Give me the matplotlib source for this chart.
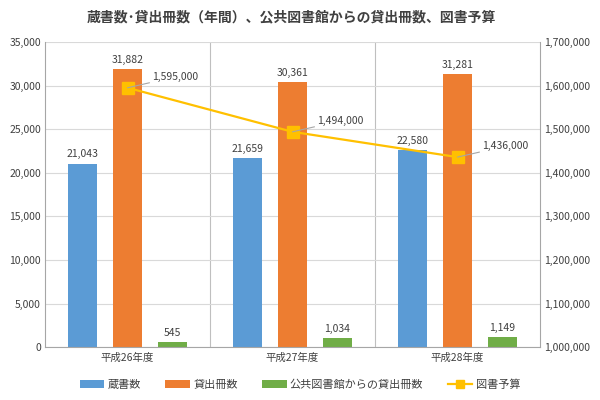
import matplotlib
matplotlib.use("Agg")
import matplotlib.pyplot as plt
import numpy as np

plt.rcParams['font.family'] = ['Noto Sans CJK JP', 'DejaVu Sans']

categories = ["平成26年度", "平成27年度", "平成28年度"]
zosho = [21043, 21659, 22580]
kashidashi = [31882, 30361, 31281]
kokyo = [545, 1034, 1149]
yosan = [1595000, 1494000, 1436000]

series_names = ["蔵書数", "貸出冊数", "公共図書館からの貸出冊数", "図書予算"]
colors = ["#5B9BD5", "#ED7D31", "#70AD47", "#FFC000"]

fig = plt.figure(figsize=(6, 4), dpi=100)
ax = fig.add_axes([0.075, 0.132, 0.825, 0.763])
ax2 = ax.twinx()

x = np.arange(len(categories))
w = 0.18
step = 0.273
for i, (vals, c) in enumerate(zip([zosho, kashidashi, kokyo], colors[:3])):
    pos = x + (i - 1) * step
    ax.bar(pos, vals, width=w, color=c, zorder=2, label=series_names[i])
    for p, v in zip(pos, vals):
        ax.text(p, v + 500, f"{v:,}", ha='center', va='bottom', fontsize=7.5, color='#404040')

ax.set_xlim(-0.5, 2.5)
ax.set_ylim(0, 35000)
ax.set_yticks(np.arange(0, 35001, 5000))
ax.set_yticklabels([f"{v:,}" for v in range(0, 35001, 5000)], fontsize=7.5, color='#404040')
ax.set_xticks(x)
ax.set_xticklabels(categories, fontsize=7.5, color='#404040')
ax.tick_params(axis='x', length=0, pad=4)
ax.tick_params(axis='y', length=0, pad=3)
ax.grid(axis='y', color='#D9D9D9', linewidth=0.8, zorder=0)
for b in [0.5, 1.5]:
    ax.axvline(b, color='#BFBFBF', linewidth=0.8, zorder=0)
for s in ['top', 'right']:
    ax.spines[s].set_visible(False)
ax.spines['left'].set_color('#A6A6A6')
ax.spines['bottom'].set_color('#A6A6A6')
ax2.spines['top'].set_visible(False)
ax2.spines['left'].set_visible(False)
ax2.spines['bottom'].set_visible(False)
ax2.spines['right'].set_color('#A6A6A6')

ax2.plot(x, yosan, color=colors[3], marker='s', markersize=9, linewidth=1.6, zorder=3, label=series_names[3])
ax2.set_ylim(1000000, 1700000)
ax2.set_yticks(np.arange(1000000, 1700001, 100000))
ax2.set_yticklabels([f"{v:,}" for v in range(1000000, 1700001, 100000)], fontsize=7.5, color='#404040')
ax2.tick_params(axis='y', length=0, pad=3)
for xi, v in zip(x, yosan):
    ax2.annotate(f"{v:,}", xy=(xi, v), xytext=(xi + 0.15, v + 25000),
                 fontsize=7.5, color='#404040', va='center', ha='left',
                 arrowprops=dict(arrowstyle='-', color='#A6A6A6', lw=0.8, shrinkA=0, shrinkB=0))

fig.suptitle("蔵書数･貸出冊数（年間）、公共図書館からの貸出冊数、図書予算",
             x=0.485, y=0.975, fontsize=10, fontweight='bold', color='#404040')

h1, l1 = ax.get_legend_handles_labels()
h2, l2 = ax2.get_legend_handles_labels()
fig.legend(h1 + h2, l1 + l2, loc='lower center', bbox_to_anchor=(0.5, 0.0), ncol=4,
           frameon=False, fontsize=8, handlelength=2.2, columnspacing=2.2,
           handletextpad=0.3, markerscale=0.6, labelcolor='#404040')

fig.savefig("out.png", dpi=100)
